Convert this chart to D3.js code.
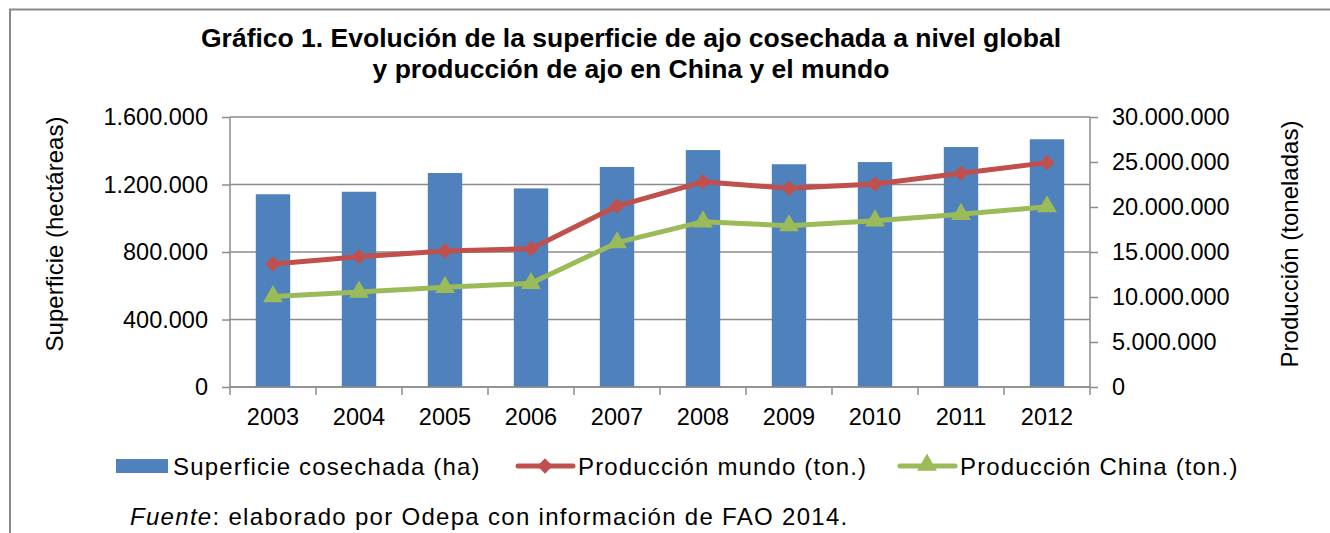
<!DOCTYPE html>
<html lang="es">
<head>
<meta charset="UTF-8">
<title>Gráfico 1</title>
<script src="https://cdn.jsdelivr.net/npm/d3@7"></script>
<style>
    body { margin: 0; background: #fff; }
    svg { display: block; font-family: "Liberation Sans", Arial, sans-serif; }
</style>
</head>
<body>
<div id="chart"></div>
<script>
    // datos
    var years = ["2003", "2004", "2005", "2006", "2007", "2008", "2009", "2010", "2011", "2012"];
    var superficie = [1142000, 1157000, 1268000, 1177000, 1304000, 1404000, 1320000, 1333000, 1422000, 1468000];
    var prodMundo = [13670000, 14480000, 15110000, 15370000, 20100000, 22800000, 22070000, 22560000, 23740000, 24930000];
    var prodChina = [10050000, 10560000, 11070000, 11520000, 16040000, 18370000, 17930000, 18480000, 19190000, 20040000];
    var leftTicks = [0, 400000, 800000, 1200000, 1600000];
    var rightTicks = [0, 5000000, 10000000, 15000000, 20000000, 25000000, 30000000];

    var width = 1330, height = 533;
    var margin = {top: 117, right: 240, bottom: 146, left: 230};
    var chartWidth = width - margin.left - margin.right;
    var chartHeight = height - margin.top - margin.bottom;

    var blue = "#4F81BD", red = "#C0504D", green = "#9BBB59", grid = "#8c8c8c";

    var fmt = function(v) { return d3.format(",")(v).replace(/,/g, "."); };

    var svg = d3.select("#chart").append("svg")
        .attr("width", width)
        .attr("height", height);

    // marco exterior
    svg.append("rect")
        .attr("x", 10).attr("y", 9.5)
        .attr("width", 1340).attr("height", 600)
        .attr("fill", "none").attr("stroke", "#8a8a8a").attr("stroke-width", 2);

    // titulo
    var title = svg.append("text")
        .attr("text-anchor", "middle")
        .attr("font-size", 26.5).attr("font-weight", "bold");
    title.append("tspan").attr("x", 631).attr("y", 47)
        .text("Gráfico 1. Evolución de la superficie de ajo cosechada a nivel global");
    title.append("tspan").attr("x", 631).attr("y", 78)
        .text("y producción de ajo en China y el mundo");

    var g = svg.append("g").attr("transform", "translate(" + margin.left + "," + margin.top + ")");

    var x = d3.scaleBand().domain(years).range([0, chartWidth]);
    var yL = d3.scaleLinear().domain([0, 1600000]).range([chartHeight, 0]);
    var yR = d3.scaleLinear().domain([0, 30000000]).range([chartHeight, 0]);

    // lineas de cuadricula
    g.selectAll(".grid").data(leftTicks).join("line")
        .attr("x1", 0).attr("x2", chartWidth)
        .attr("y1", function(d) { return yL(d); })
        .attr("y2", function(d) { return yL(d); })
        .attr("stroke", grid).attr("stroke-width", 1.5);

    // barras
    var barW = x.bandwidth() * 0.4;
    g.selectAll(".bar").data(superficie).join("rect")
        .attr("x", function(d, i) { return x(years[i]) + (x.bandwidth() - barW) / 2; })
        .attr("y", function(d) { return yL(d); })
        .attr("width", barW)
        .attr("height", function(d) { return chartHeight - yL(d); })
        .attr("fill", blue);

    // ejes
    var axisL = d3.axisLeft(yL).tickValues(leftTicks).tickFormat(fmt).tickSize(8).tickPadding(14);
    var axisR = d3.axisRight(yR).tickValues(rightTicks).tickFormat(fmt).tickSize(8).tickPadding(14);
    var axisB = d3.axisBottom(x).tickSize(8).tickPadding(14);

    function styleAxis(sel) {
        sel.select(".domain").attr("stroke", grid).attr("stroke-width", 1.5);
        sel.selectAll(".tick line").attr("stroke", grid).attr("stroke-width", 1.5);
        sel.selectAll(".tick text").attr("fill", "#000").attr("font-size", 23.5)
            .attr("font-family", "'Liberation Sans', Arial, sans-serif");
    }

    g.append("g").call(axisL).call(styleAxis)
        .call(function(s) { s.select(".domain").attr("d", "M0," + chartHeight + "V0"); });
    g.append("g").attr("transform", "translate(" + chartWidth + ",0)").call(axisR).call(styleAxis)
        .call(function(s) { s.select(".domain").attr("d", "M0," + chartHeight + "V0"); });

    var xAxis = g.append("g").attr("transform", "translate(0," + chartHeight + ")").call(axisB).call(styleAxis);
    xAxis.selectAll(".tick line").remove();
    xAxis.select(".domain").attr("d", "M0,0H" + chartWidth);
    // marcas entre categorias
    xAxis.selectAll(".sep").data(d3.range(years.length + 1)).join("line")
        .attr("x1", function(i) { return i * x.step(); })
        .attr("x2", function(i) { return i * x.step(); })
        .attr("y1", 0).attr("y2", 8)
        .attr("stroke", grid).attr("stroke-width", 1.5);
    xAxis.selectAll(".tick text").attr("y", 37.5).attr("dy", null);

    // lineas de produccion
    var cx = function(d, i) { return x(years[i]) + x.bandwidth() / 2; };
    var line = d3.line().x(cx).y(function(d) { return yR(d); });

    g.append("path").datum(prodMundo).attr("d", line)
        .attr("fill", "none").attr("stroke", red).attr("stroke-width", 5).attr("stroke-linejoin", "round");
    g.append("path").datum(prodChina).attr("d", line)
        .attr("fill", "none").attr("stroke", green).attr("stroke-width", 5).attr("stroke-linejoin", "round");

    var diamond = d3.symbol().type(d3.symbolDiamond2).size(150);
    var triangle = d3.symbol().type(d3.symbolTriangle).size(170);

    g.selectAll(".mm").data(prodMundo).join("path")
        .attr("d", diamond)
        .attr("transform", function(d, i) { return "translate(" + cx(d, i) + "," + yR(d) + ")"; })
        .attr("fill", red);
    g.selectAll(".mc").data(prodChina).join("path")
        .attr("d", triangle)
        .attr("transform", function(d, i) { return "translate(" + cx(d, i) + "," + yR(d) + ")"; })
        .attr("fill", green);

    // titulos de ejes
    svg.append("text")
        .attr("transform", "translate(63,234) rotate(-90)")
        .attr("text-anchor", "middle").attr("font-size", 24)
        .text("Superficie (hectáreas)");
    svg.append("text")
        .attr("transform", "translate(1298,244) rotate(-90)")
        .attr("text-anchor", "middle").attr("font-size", 24)
        .text("Producción (toneladas)");

    // leyenda
    var lg = svg.append("g").attr("transform", "translate(0,466)")
        .attr("font-size", 24).attr("letter-spacing", 1.15);
    lg.append("rect").attr("x", 116).attr("y", -7).attr("width", 52).attr("height", 14).attr("fill", blue);
    lg.append("text").attr("x", 173).attr("y", 9).text("Superficie cosechada (ha)");

    lg.append("line").attr("x1", 518).attr("x2", 573).attr("y1", 0).attr("y2", 0)
        .attr("stroke", red).attr("stroke-width", 5).attr("stroke-linecap", "round");
    lg.append("path").attr("d", diamond).attr("transform", "translate(545,0)").attr("fill", red);
    lg.append("text").attr("x", 578).attr("y", 9).text("Producción mundo (ton.)");

    lg.append("line").attr("x1", 900).attr("x2", 955).attr("y1", 0).attr("y2", 0)
        .attr("stroke", green).attr("stroke-width", 5).attr("stroke-linecap", "round");
    lg.append("path").attr("d", triangle).attr("transform", "translate(927,-1)").attr("fill", green);
    lg.append("text").attr("x", 960).attr("y", 9).text("Producción China (ton.)");

    // fuente
    var src = svg.append("text").attr("x", 130).attr("y", 525)
        .attr("font-size", 24).attr("letter-spacing", 1.3);
    src.append("tspan").attr("font-style", "italic").text("Fuente");
    src.append("tspan").text(": elaborado por Odepa con información de FAO 2014.");
</script>
</body>
</html>
